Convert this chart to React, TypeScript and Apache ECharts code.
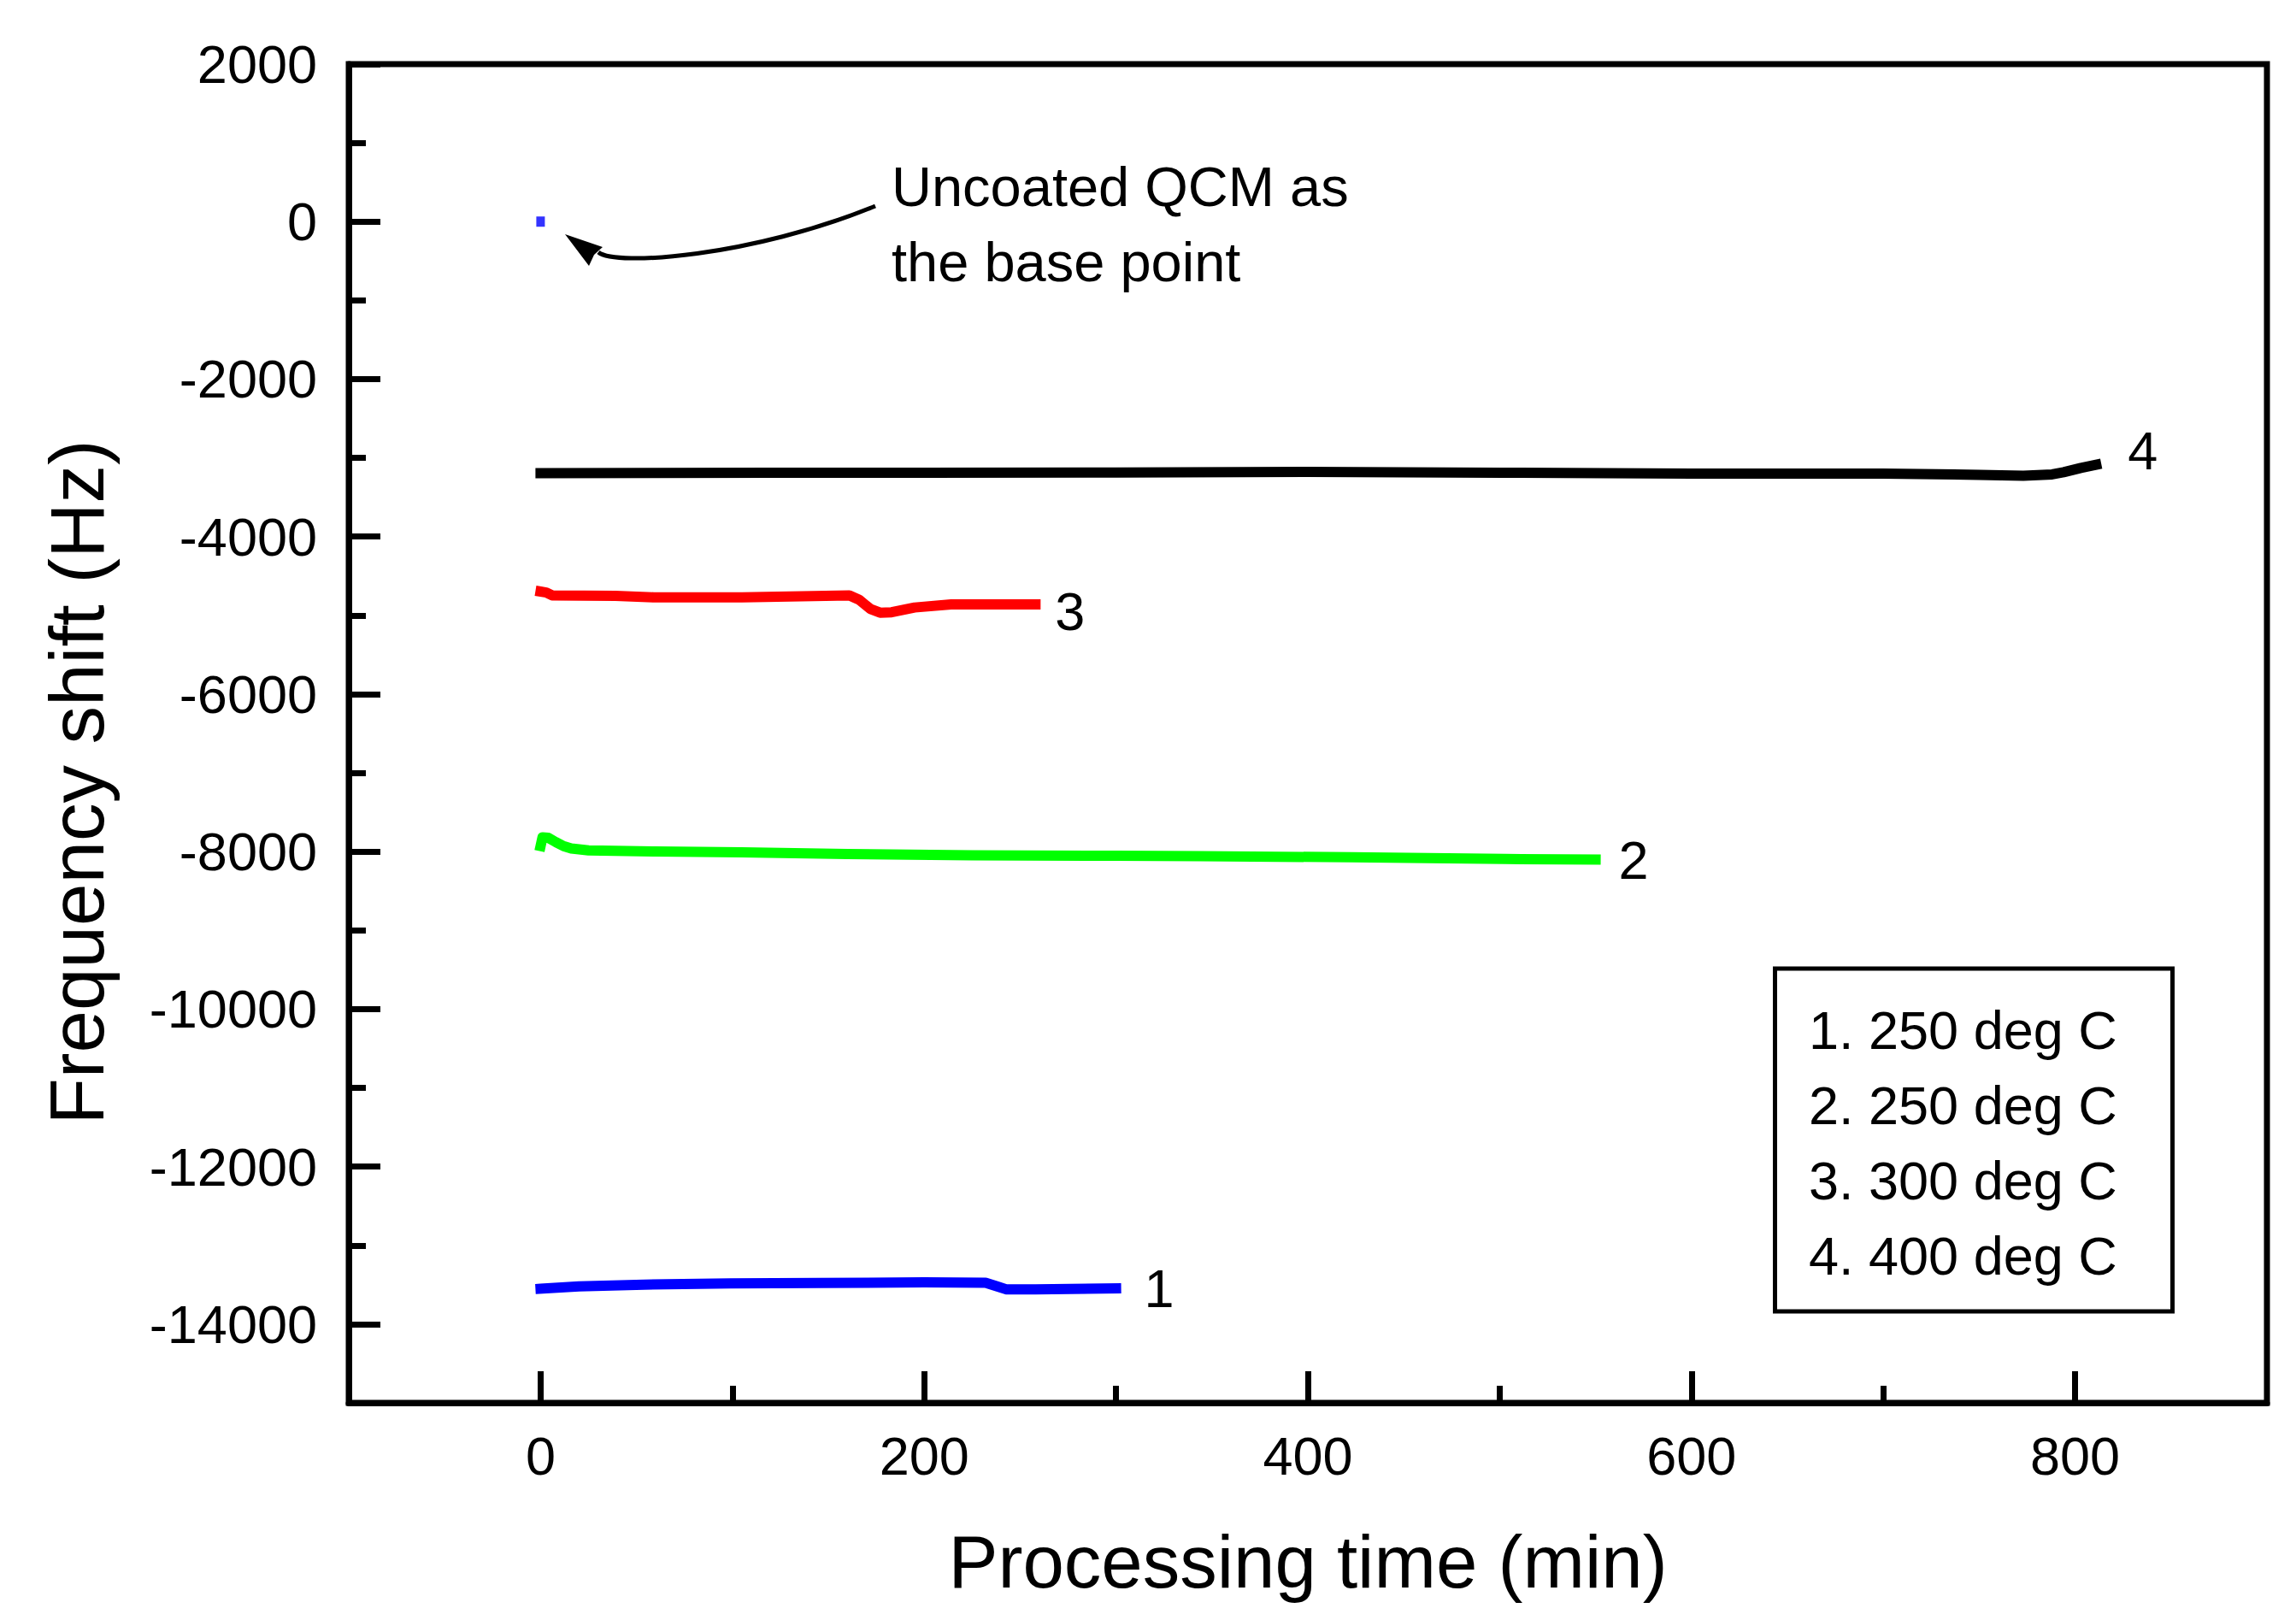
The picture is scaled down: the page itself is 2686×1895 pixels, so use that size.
import React, { useEffect, useRef } from "react";
import * as echarts from "echarts";

// ---- Data ----
const s1X = [0, 20, 54, 99, 145, 200, 232, 238, 243, 258, 300];
const s1Y = [-13551, -13522, -13499, -13483, -13477, -13470, -13475, -13520, -13560, -13558, -13546];

const s2X = [0, 1, 4, 8, 12, 16, 25, 60, 105, 160, 225, 300, 344, 423, 503, 550];
const s2Y = [-7930, -7818, -7825, -7880, -7930, -7960, -7985, -7998, -8010, -8030, -8047, -8053, -8057, -8072, -8093, -8102];

const s3X = [0, 3, 6, 39, 59, 105, 161, 166, 172, 177, 183, 195, 214, 258];
const s3Y = [-4698, -4710, -4746, -4753, -4771, -4771, -4746, -4800, -4920, -4966, -4960, -4900, -4860, -4861];

const s4X = [0, 60, 120, 200, 300, 400, 500, 600, 700, 750, 773, 788, 794, 803, 811];
const s4Y = [-3195, -3193, -3188, -3188, -3185, -3178, -3188, -3200, -3200, -3215, -3226, -3210, -3182, -3128, -3088];

const basePoint = [0, 0];

const xMajorTicks = [0, 200, 400, 600, 800];
const xMinorTicks = [100, 300, 500, 700];
const yMajorTicks = [-14000, -12000, -10000, -8000, -6000, -4000, -2000, 0, 2000];
const yMinorTicks = [-13000, -11000, -9000, -7000, -5000, -3000, -1000, 1000];

const seriesNames = ["1", "2", "3", "4"];
const legendLines = ["1. 250 deg C", "2. 250 deg C", "3. 300 deg C", "4. 400 deg C"];
const annotationLines = ["Uncoated QCM as", "the base point"];
const xTitle = "Processing time (min)";
const yTitle = "Frequency shift (Hz)";

const FONT = "Liberation Sans";

function zip(xs: number[], ys: number[]) {
  return xs.map((x, i) => [x, ys[i]]);
}

export default function App() {
  const ref = useRef<HTMLDivElement>(null);
  useEffect(() => {
    if (!ref.current) return;
    const chart = echarts.init(ref.current, undefined, { renderer: "svg" });

    const endLabel = (text: string, distance: number, dy: number) => ({
      show: true,
      formatter: text,
      distance,
      offset: [0, dy],
      color: "#000",
      fontSize: 63,
      fontFamily: FONT,
    });

    const lineSeries = (name: string, data: number[][], color: string, lbl: any) => ({
      name,
      type: "line",
      data,
      xAxisIndex: 0,
      yAxisIndex: 0,
      showSymbol: false,
      symbol: "none",
      lineStyle: { color, width: 12, cap: "square", join: "round" },
      itemStyle: { color },
      endLabel: lbl,
      z: 3,
    });

    const commonAxisLine = { show: true, onZero: false, lineStyle: { color: "#000", width: 7 } };
    const tickStyle = { color: "#000", width: 7 };

    chart.setOption({
      animation: false,
      backgroundColor: "#fff",
      grid: {
        left: 408,
        right: 34,
        top: 75,
        bottom: 254,
        show: true,
        borderColor: "#000",
        borderWidth: 7,
        backgroundColor: "transparent",
      },
      xAxis: [
        {
          type: "value",
          min: -100,
          max: 900,
          position: "bottom",
          splitLine: { show: false },
          axisLine: commonAxisLine,
          axisTick: { show: true, inside: true, length: 37, customValues: xMajorTicks, lineStyle: tickStyle },
          axisLabel: {
            show: true,
            customValues: xMajorTicks,
            margin: 30,
            fontSize: 63,
            fontFamily: FONT,
            color: "#000",
            formatter: (v: number) => String(v),
          },
          name: xTitle,
          nameLocation: "middle",
          nameGap: 142,
          nameTextStyle: { fontSize: 87, fontFamily: FONT, color: "#000" },
        },
        {
          type: "value",
          min: -100,
          max: 900,
          position: "bottom",
          splitLine: { show: false },
          axisLine: { show: false, onZero: false },
          axisTick: { show: true, inside: true, length: 20, customValues: xMinorTicks, lineStyle: tickStyle },
          axisLabel: { show: false },
        },
      ],
      yAxis: [
        {
          type: "value",
          min: -15000,
          max: 2000,
          position: "left",
          splitLine: { show: false },
          axisLine: commonAxisLine,
          axisTick: { show: true, inside: true, length: 37, customValues: yMajorTicks, lineStyle: tickStyle },
          axisLabel: {
            show: true,
            customValues: yMajorTicks,
            margin: 37,
            fontSize: 63,
            fontFamily: FONT,
            color: "#000",
            formatter: (v: number) => String(v),
          },
        },
        {
          type: "value",
          min: -15000,
          max: 2000,
          position: "left",
          splitLine: { show: false },
          axisLine: { show: false, onZero: false },
          axisTick: { show: true, inside: true, length: 20, customValues: yMinorTicks, lineStyle: tickStyle },
          axisLabel: { show: false },
        },
      ],
      series: [
        lineSeries(seriesNames[0], zip(s1X, s1Y), "#0000ff", endLabel(seriesNames[0], 33, 0)),
        lineSeries(seriesNames[1], zip(s2X, s2Y), "#00ff00", endLabel(seriesNames[1], 27, 0)),
        lineSeries(seriesNames[2], zip(s3X, s3Y), "#ff0000", endLabel(seriesNames[2], 23, 8)),
        lineSeries(seriesNames[3], zip(s4X, s4Y), "#000000", endLabel(seriesNames[3], 37, -17)),
        {
          name: "base",
          type: "scatter",
          data: [basePoint],
          symbol: "rect",
          symbolSize: [10, 12],
          itemStyle: { color: "#0000ff" },
          z: 4,
        },
      ],
      graphic: [
        {
          type: "text",
          x: 90,
          y: 915,
          rotation: Math.PI / 2,
          style: {
            text: yTitle,
            fontSize: 89,
            fontFamily: FONT,
            fill: "#000",
            textAlign: "center",
            textVerticalAlign: "middle",
          },
        },
        {
          type: "rect",
          shape: { x: 2076.5, y: 1133, width: 465, height: 401 },
          style: { fill: "#fff", stroke: "#000", lineWidth: 5 },
          z: 10,
        },
        ...legendLines.map((t, i) => ({
          type: "text",
          x: 2116,
          y: 1205 + i * 88,
          style: {
            text: t,
            fontSize: 63,
            fontFamily: FONT,
            fill: "#000",
            textAlign: "left",
            textVerticalAlign: "middle",
          },
          z: 11,
        })),
        ...annotationLines.map((t, i) => ({
          type: "text",
          x: 1043,
          y: 218 + i * 88,
          style: {
            text: t,
            fontSize: 65,
            fontFamily: FONT,
            fill: "#000",
            textAlign: "left",
            textVerticalAlign: "middle",
          },
          z: 11,
        })),
        {
          type: "bezierCurve",
          shape: { x1: 1024, y1: 241, cpx1: 880, cpy1: 300, cpx2: 720, cpy2: 312, x2: 700, y2: 295 },
          style: { stroke: "#000", lineWidth: 5, fill: "none" },
          z: 11,
        },
        {
          type: "polygon",
          shape: { points: [[661, 274], [689, 311], [695, 298], [705, 289]] },
          style: { fill: "#000" },
          z: 11,
        },
      ],
    });

    return () => chart.dispose();
  }, []);

  return (
    <div
      ref={ref}
      style={{ position: "fixed", left: 0, top: 0, width: 2686, height: 1895, background: "#fff" }}
    />
  );
}
